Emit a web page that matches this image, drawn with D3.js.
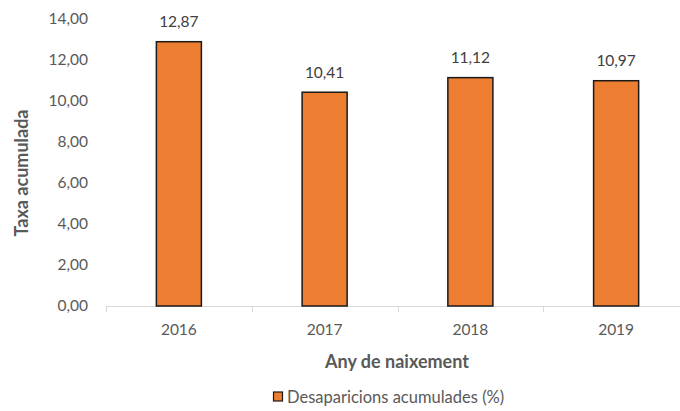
<!DOCTYPE html>
<html><head><meta charset="utf-8">
<script src="https://cdn.jsdelivr.net/npm/d3@7"></script>
<style>body{margin:0;background:#fff}svg{display:block;font-family:Lato,"Open Sans",sans-serif}</style>
</head><body><svg id="c" width="680" height="411"></svg>
<script>
const categories = ["2016","2017","2018","2019"];
const values = [12.87, 10.41, 11.12, 10.97];
const yTicks = [0,2,4,6,8,10,12,14];
const seriesName = "Desaparicions acumulades (%)";
const xTitle = "Any de naixement";
const yTitle = "Taxa acumulada";

(function(){
const svg = d3.select("#c");
const pL = 106, pR = 689, pT = 18.5, pB = 306;
const fmt = v => v.toFixed(2).replace(".", ",");
const x = d3.scaleBand().domain(categories).range([pL, pR]).paddingInner(0.691).paddingOuter(0.3455);
const y = d3.scaleLinear().domain([0,14]).range([pB, pT]);
const txt = "#595959";

svg.append("line").attr("x1", pL).attr("x2", pR).attr("y1", pB+0.5).attr("y2", pB+0.5)
  .attr("stroke", "#d9d9d9").attr("stroke-width", 1);
const step = x.step();
d3.range(categories.length+1).forEach(i => {
  const xx = Math.round(pL + i*step) + 0.5;
  svg.append("line").attr("x1", xx).attr("x2", xx).attr("y1", pB).attr("y2", pB+6)
    .attr("stroke", "#d9d9d9");
});

svg.append("g").selectAll("text").data(yTicks).join("text")
  .attr("x", 88).attr("y", d => y(d)).attr("dy", "0.35em").attr("text-anchor", "end")
  .attr("fill", txt).attr("font-size", 15.5).text(fmt);

svg.append("g").selectAll("text").data(categories).join("text")
  .attr("x", d => x(d) + x.bandwidth()/2).attr("y", 330).attr("dy", "0.35em").attr("text-anchor", "middle")
  .attr("fill", txt).attr("font-size", 15.5).text(d => d);

svg.append("g").selectAll("rect").data(values).join("rect")
  .attr("x", (d,i) => x(categories[i])).attr("width", x.bandwidth())
  .attr("y", d => y(d)).attr("height", d => pB - y(d))
  .attr("fill", "#ED7D31").attr("stroke", "#1a1a1a").attr("stroke-width", 1.5);

svg.append("g").selectAll("text").data(values).join("text")
  .attr("x", (d,i) => x(categories[i]) + x.bandwidth()/2).attr("y", d => y(d) - 20).attr("dy", "0.35em")
  .attr("text-anchor", "middle").attr("fill", "#404040").attr("font-size", 15.5).text(fmt);

svg.append("text").attr("x", 397).attr("y", 362).attr("dy", "0.35em").attr("text-anchor", "middle")
  .attr("fill", txt).attr("font-size", 18).attr("font-weight", "bold").text(xTitle);
svg.append("text").attr("transform", "translate(22,173) rotate(-90)").attr("dy", "0.35em").attr("text-anchor", "middle")
  .attr("fill", txt).attr("font-size", 18).attr("font-weight", "bold").text(yTitle);

svg.append("rect").attr("x", 273.5).attr("y", 392).attr("width", 9).attr("height", 9)
  .attr("fill", "#ED7D31").attr("stroke", "#1a1a1a").attr("stroke-width", 1.2);
svg.append("text").attr("x", 287).attr("y", 397).attr("dy", "0.35em").attr("fill", txt)
  .attr("font-size", 16.5).text(seriesName);
})();
</script></body></html>
